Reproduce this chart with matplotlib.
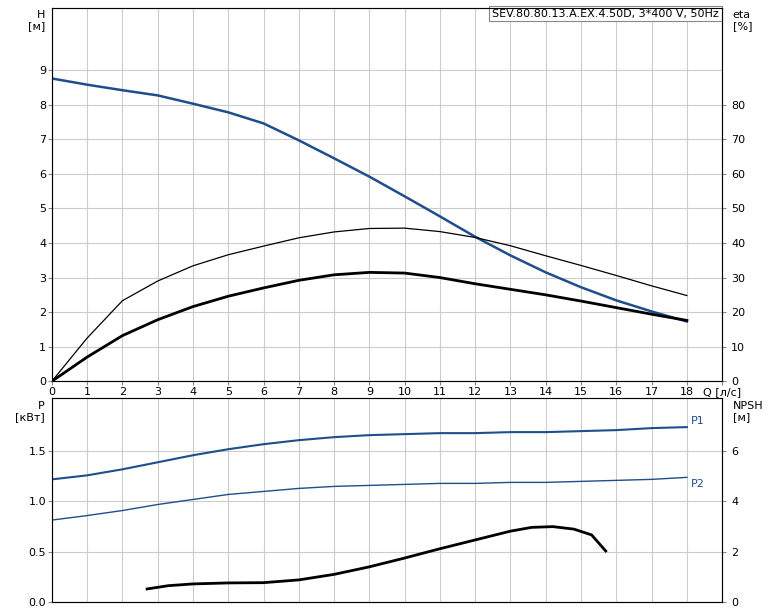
import matplotlib
matplotlib.use("Agg")
import matplotlib.pyplot as plt

q = [0, 1, 2, 3, 4, 5, 6, 7, 8, 9, 10, 11, 12, 13, 14, 15, 16, 17, 18]
head = [8.76, 8.58, 8.42, 8.27, 8.03, 7.78, 7.46, 6.97, 6.45, 5.92, 5.35, 4.77, 4.18, 3.64, 3.15, 2.72, 2.34, 2.02, 1.73]
eta_pump = [0, 12.5, 23.3, 29.0, 33.4, 36.6, 39.1, 41.5, 43.2, 44.2, 44.3, 43.3, 41.6, 39.2, 36.3, 33.5, 30.6, 27.6, 24.8]
eta_tot = [0, 7.0, 13.2, 17.8, 21.6, 24.6, 27.0, 29.2, 30.8, 31.5, 31.3, 30.0, 28.2, 26.6, 25.0, 23.2, 21.3, 19.4, 17.6]
p1 = [1.22, 1.26, 1.32, 1.39, 1.46, 1.52, 1.57, 1.61, 1.64, 1.66, 1.67, 1.68, 1.68, 1.69, 1.69, 1.70, 1.71, 1.73, 1.74]
p2 = [0.815, 0.86, 0.91, 0.97, 1.02, 1.07, 1.10, 1.13, 1.15, 1.16, 1.17, 1.18, 1.18, 1.19, 1.19, 1.20, 1.21, 1.22, 1.24]
q_npsh = [2.7, 3.3, 4.0, 5.0, 6.0, 7.0, 8.0, 9.0, 10.0, 11.0, 12.0, 13.0, 13.6, 14.2, 14.8, 15.3, 15.7]
npsh = [0.52, 0.65, 0.72, 0.76, 0.77, 0.88, 1.10, 1.40, 1.75, 2.12, 2.47, 2.82, 2.97, 3.00, 2.90, 2.67, 2.03]
q_labels = [str(v) for v in q] + ["Q [л/с]"]

blue = "#1f4e8c"
fig = plt.figure(figsize=(7.74, 6.11), dpi=100)
ax = fig.add_axes([0.067, 0.376, 0.866, 0.611])
axb = fig.add_axes([0.067, 0.0147, 0.866, 0.334])

for a in (ax, axb):
    a.set_xlim(0, 19)
    a.set_xticks(range(0, 20))
    a.grid(True, color="#cccccc", lw=0.8)
    a.tick_params(labelsize=8, length=3, color="#888888", pad=1)
    for s in a.spines.values():
        s.set_color("#888888")

ax.set_ylim(0, 10.8)
ax.set_yticks(range(0, 10))
ax.plot(q, head, color=blue, lw=1.8)
ax.set_xticklabels(q_labels)
ax.text(-0.2, 10.75, "H\n[м]", fontsize=8, ha="right", va="top")
ax.text(0.995, 0.998, "SEV.80.80.13.A.EX.4.50D, 3*400 V, 50Hz", transform=ax.transAxes,
        fontsize=8, ha="right", va="top", bbox=dict(fc="white", ec="#888888", lw=0.8, pad=2))

ax2 = ax.twinx()
ax2.set_ylim(0, 108)
ax2.set_yticks(range(0, 90, 10))
ax2.tick_params(labelsize=8, length=3, color="#888888")
ax2.plot(q, eta_pump, color="black", lw=0.9)
ax2.plot(q, eta_tot, color="black", lw=2.0)
ax2.text(19.3, 107.5, "eta\n[%]", fontsize=8, ha="left", va="top")

axb.set_ylim(0, 2.03)
axb.set_yticks([0, 0.5, 1.0, 1.5])
axb.set_yticklabels(["0.0", "0.5", "1.0", "1.5"])
axb.set_xticklabels([])
axb.tick_params(axis="x", length=0)
axb.plot(q, p1, color=blue, lw=1.5)
axb.plot(q, p2, color=blue, lw=1.0)
axb.text(18.1, 1.75, "P1", fontsize=8, color=blue, va="bottom")
axb.text(18.1, 1.22, "P2", fontsize=8, color=blue, va="top")
axb.text(-0.2, 2.0, "P\n[кВт]", fontsize=8, ha="right", va="top")

axb2 = axb.twinx()
axb2.set_ylim(0, 8.12)
axb2.set_yticks([0, 2, 4, 6])
axb2.tick_params(labelsize=8, length=3, color="#888888")
axb2.plot(q_npsh, npsh, color="black", lw=2.0)
axb2.text(19.3, 8.0, "NPSH\n[м]", fontsize=8, ha="left", va="top")

fig.savefig("out.png", dpi=100)
